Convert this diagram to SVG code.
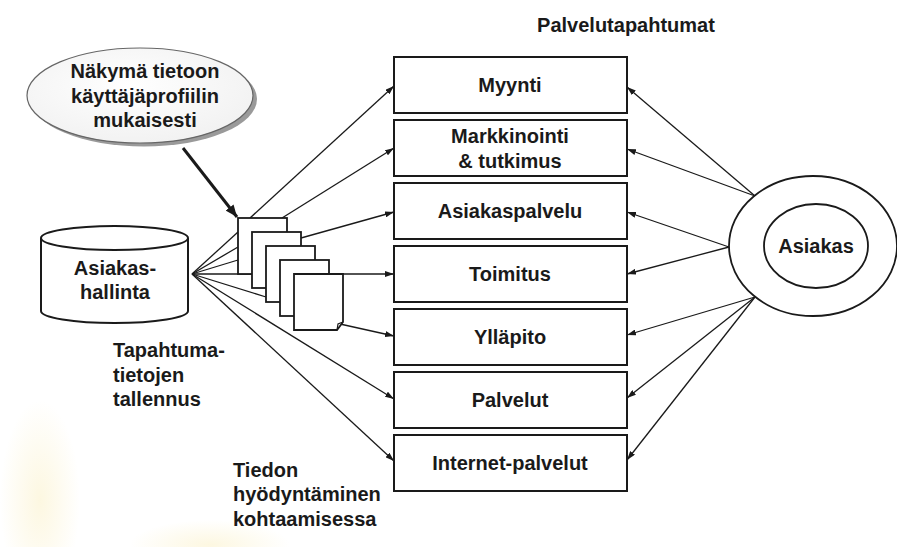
<svg xmlns="http://www.w3.org/2000/svg" width="897" height="547" viewBox="0 0 897 547">
  <defs>
    <style>
      .t { font-family: "Liberation Sans", Arial, sans-serif; font-weight: bold; font-size: 20px; fill: #1a1a1a; }
      .c { text-anchor: middle; }
      .box { fill: #fff; stroke: #1a1a1a; stroke-width: 2; }
      .ln { fill: none; stroke: #1a1a1a; stroke-width: 1.3; }
      .arr { fill: none; stroke: #1a1a1a; stroke-width: 1.3; marker-end: url(#ah); }
      .doc { fill: #fff; stroke: #1a1a1a; stroke-width: 1.8; }
      .cyl { fill: #fff; stroke: #1a1a1a; stroke-width: 2; }
    </style>
    <marker id="ah" markerUnits="userSpaceOnUse" markerWidth="9" markerHeight="6" refX="9" refY="3" orient="auto">
      <path d="M0,0 L9,3 L0,6 z" fill="#1a1a1a"/>
    </marker>
    <marker id="ahb" markerUnits="userSpaceOnUse" markerWidth="12" markerHeight="10" refX="12" refY="5" orient="auto">
      <path d="M0,0 L12,5 L0,10 z" fill="#1a1a1a"/>
    </marker>
    <radialGradient id="glow1" cx="0.5" cy="0.5" r="0.5">
      <stop offset="0" stop-color="#fbf1c8" stop-opacity="0.55"/>
      <stop offset="1" stop-color="#fbf1c8" stop-opacity="0"/>
    </radialGradient>
    <radialGradient id="bub" cx="0.45" cy="0.4" r="0.6">
      <stop offset="0" stop-color="#ffffff"/>
      <stop offset="1" stop-color="#f2f2f2"/>
    </radialGradient>
  </defs>

  <rect width="897" height="547" fill="#ffffff"/>
  <ellipse cx="40" cy="500" rx="40" ry="100" fill="url(#glow1)"/>
  <ellipse cx="210" cy="545" rx="80" ry="25" fill="url(#glow1)"/>

  <text class="t c" x="626" y="32">Palvelutapahtumat</text>

  <g id="connectors">
    <line class="ln" x1="192" y1="274" x2="238" y2="232"/>
    <line class="ln" x1="192" y1="274" x2="238" y2="247"/>
    <line class="ln" x1="192" y1="274" x2="238" y2="260"/>
    <line class="ln" x1="192" y1="274" x2="266" y2="297"/>
    <line class="arr" x1="250" y1="218" x2="394" y2="86"/>
    <line class="arr" x1="282" y1="218" x2="394" y2="148"/>
    <line class="arr" x1="301" y1="238" x2="394" y2="212"/>
    <line class="arr" x1="192" y1="274" x2="394" y2="274"/>
    <line class="arr" x1="340" y1="324" x2="394" y2="336"/>
    <line class="arr" x1="192" y1="274" x2="394" y2="399"/>
    <line class="arr" x1="192" y1="274" x2="394" y2="461"/>
    <line class="arr" x1="755" y1="196" x2="627" y2="87"/>
    <line class="arr" x1="755" y1="196" x2="627" y2="149"/>
    <line class="arr" x1="729" y1="247" x2="627" y2="212"/>
    <line class="arr" x1="729" y1="247" x2="627" y2="274"/>
    <line class="arr" x1="755" y1="297" x2="627" y2="335"/>
    <line class="arr" x1="755" y1="297" x2="627" y2="398"/>
    <line class="arr" x1="755" y1="297" x2="627" y2="460"/>
    <line x1="183" y1="148" x2="237" y2="217" stroke="#1a1a1a" stroke-width="3" marker-end="url(#ahb)"/>
  </g>

  <g id="nakyma">
    <ellipse cx="144" cy="99" rx="113" ry="47.5" fill="#9a9a9a"/>
    <ellipse cx="140" cy="95.5" rx="113" ry="47.5" fill="url(#bub)" stroke="#666" stroke-width="1.2"/>
    <text class="t c" x="145" y="78">Näkymä tietoon</text>
    <text class="t c" x="145" y="103">käyttäjäprofiilin</text>
    <text class="t c" x="145" y="127">mukaisesti</text>
  </g>

  <g id="asiakashallinta">
    <path class="cyl" d="M41,238 L41,311 A73.5,12 0 0 0 188,311 L188,238"/>
    <ellipse class="cyl" cx="114.5" cy="238" rx="73.5" ry="12"/>
    <text class="t c" x="115" y="275">Asiakas-</text>
    <text class="t c" x="115" y="299">hallinta</text>
  </g>

  <g id="dokumentit">
    <rect class="doc" x="238" y="218" width="49" height="56"/>
    <rect class="doc" x="252" y="232" width="49" height="56"/>
    <rect class="doc" x="266" y="246" width="49" height="56"/>
    <rect class="doc" x="280" y="260" width="49" height="56"/>
    <path class="doc" d="M294,274 L343,274 L343,322 L337,330 L294,330 Z"/>
    <path d="M337,330 L338,324 L343,322" fill="none" stroke="#1a1a1a" stroke-width="1.2"/>
  </g>

  <g id="myynti">
    <rect class="box" x="394" y="57" width="233" height="56"/>
    <text class="t c" x="510" y="92">Myynti</text>
  </g>
  <g id="markkinointi">
    <rect class="box" x="394" y="120" width="233" height="56"/>
    <text class="t c" x="510" y="143">Markkinointi</text>
    <text class="t c" x="510" y="168">&amp; tutkimus</text>
  </g>
  <g id="asiakaspalvelu">
    <rect class="box" x="394" y="183" width="233" height="56"/>
    <text class="t c" x="510" y="218">Asiakaspalvelu</text>
  </g>
  <g id="toimitus">
    <rect class="box" x="394" y="246" width="233" height="56"/>
    <text class="t c" x="510" y="281">Toimitus</text>
  </g>
  <g id="yllapito">
    <rect class="box" x="394" y="309" width="233" height="56"/>
    <text class="t c" x="510" y="344">Ylläpito</text>
  </g>
  <g id="palvelut">
    <rect class="box" x="394" y="372" width="233" height="56"/>
    <text class="t c" x="510" y="407">Palvelut</text>
  </g>
  <g id="internet-palvelut">
    <rect class="box" x="394" y="435" width="233" height="56"/>
    <text class="t c" x="510" y="470">Internet-palvelut</text>
  </g>

  <g id="asiakas">
    <ellipse cx="813" cy="246" rx="84" ry="70" fill="#fff" stroke="#1a1a1a" stroke-width="1.8"/>
    <ellipse cx="816" cy="246" rx="52" ry="42" fill="#fff" stroke="#1a1a1a" stroke-width="1.8"/>
    <text class="t c" x="816" y="253">Asiakas</text>
  </g>

  <g id="tapahtumatietojen-tallennus">
    <text class="t" x="113" y="357">Tapahtuma-</text>
    <text class="t" x="113" y="382">tietojen</text>
    <text class="t" x="113" y="406">tallennus</text>
  </g>

  <g id="tiedon-hyodyntaminen">
    <text class="t" x="233" y="477">Tiedon</text>
    <text class="t" x="233" y="501">hyödyntäminen</text>
    <text class="t" x="233" y="526">kohtaamisessa</text>
  </g>
</svg>
